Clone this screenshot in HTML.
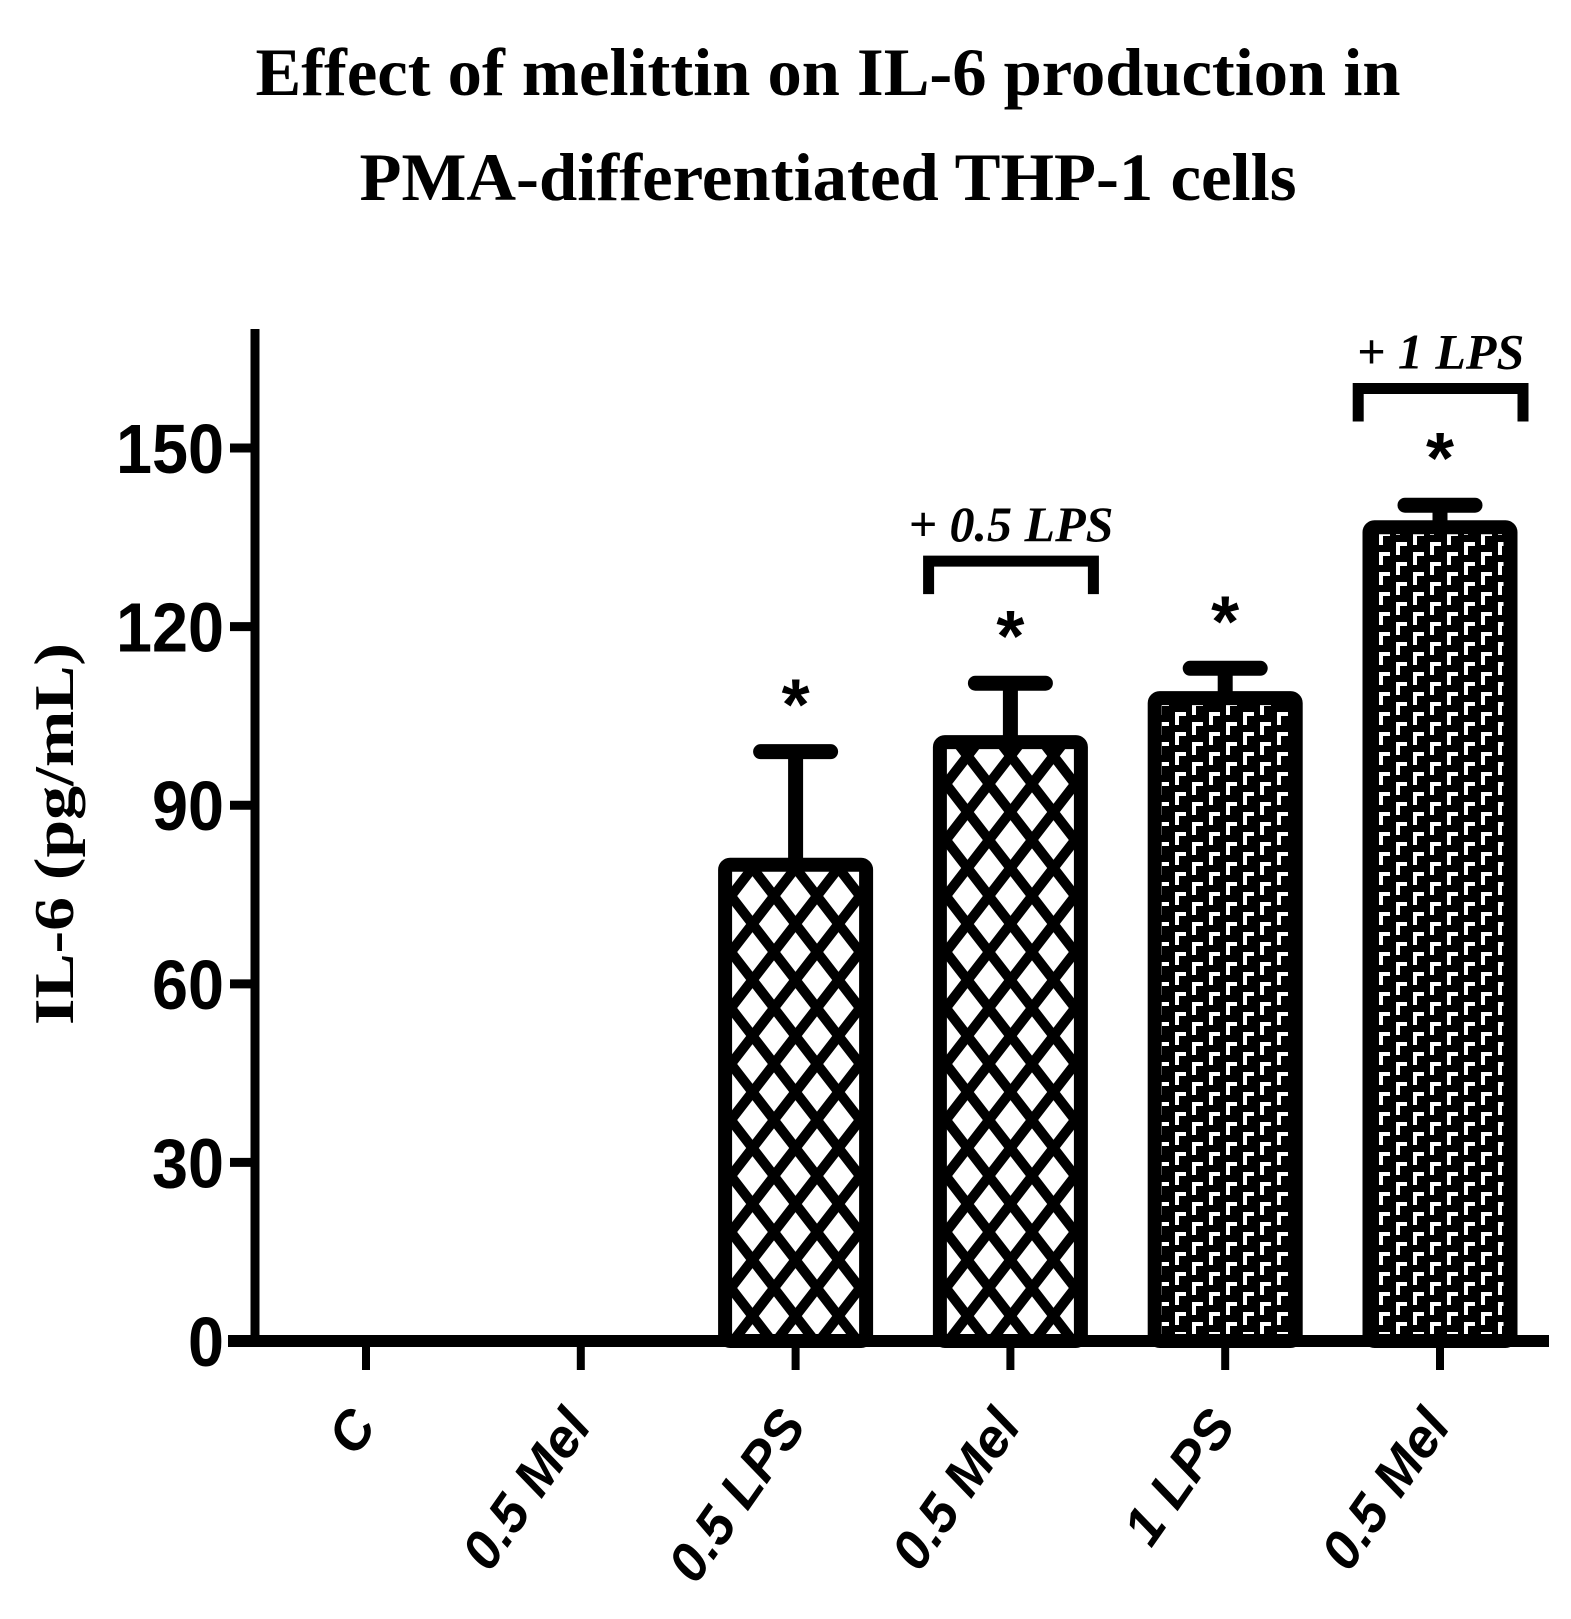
<!DOCTYPE html>
<html><head><meta charset="utf-8"><style>html,body{margin:0;padding:0;background:#fff}svg{display:block}</style></head>
<body>
<svg id="chart" width="1571" height="1619" viewBox="0 0 1571 1619" xmlns="http://www.w3.org/2000/svg">
<defs>
<pattern id="hatch" patternUnits="userSpaceOnUse" width="43" height="56">
<rect width="43" height="56" fill="#fff"/>
<path d="M-4,-5 L47,61 M47,-5 L-4,61" stroke="#000" stroke-width="10"/>
</pattern>
<pattern id="dots" patternUnits="userSpaceOnUse" width="34" height="20">
<rect width="34" height="20" fill="#000"/>
<path d="M2,2 h11 v4 h-7 v9 h-4z M19,12 h11 v4 h-7 v4 h-4z M19,0 h4 v5 h-4z" fill="#fff"/>
</pattern>
</defs>
<g font-family="'Liberation Serif', serif" font-weight="bold" fill="#000">
<text x="828" y="95" font-size="68" text-anchor="middle" textLength="1145" lengthAdjust="spacingAndGlyphs">Effect of melittin on IL-6 production in</text>
<text x="828" y="200" font-size="68" text-anchor="middle" textLength="937" lengthAdjust="spacingAndGlyphs">PMA-differentiated THP-1 cells</text>
<text transform="translate(73,834) rotate(-90)" font-size="56" text-anchor="middle" textLength="382" lengthAdjust="spacingAndGlyphs">IL-6 (pg/mL)</text>
</g>
<g id="plot"></g>
</svg>
<script>
const categories = ["C", "0.5 Mel", "0.5 LPS", "0.5 Mel", "1 LPS", "0.5 Mel"];
const means = [0, 0, 80, 100.6, 108, 136.7];
const errors = [0, 0, 19, 9.9, 5, 3.7];
const fills = ["none", "none", "hatch", "hatch", "dots", "dots"];
const yTicks = [0, 30, 60, 90, 120, 150];
const stars = [false, false, true, true, true, true];
const groups = [{label: "+ 0.5 LPS", from: 2, to: 3, level: 131}, {label: "+ 1 LPS", from: 4, to: 5, level: 160}];

const NS = "http://www.w3.org/2000/svg";
const plot = document.getElementById("plot");
const y0 = 1341, pxPerUnit = 5.953;
const yScale = v => y0 - v * pxPerUnit;
const xScale = i => 366 + i * 214.8;
function mk(tag, attrs, parent) {
  const el = document.createElementNS(NS, tag);
  for (const k in attrs) el.setAttribute(k, attrs[k]);
  (parent || plot).appendChild(el);
  return el;
}
let ya = mk("line", {x1: 255, y1: 329, x2: 255, y2: 1347, stroke: "#000", "stroke-width": 9});


let xa = mk("line", {x1: 228, y1: 1341, x2: 1549, y2: 1341, stroke: "#000", "stroke-width": 12});


yTicks.forEach(t => {
  const y = yScale(t);
  const tk = mk("line", {x1: 230, y1: y, x2: 255, y2: y, stroke: "#000", "stroke-width": 9});
  
  
  const s = String(t);
  const lb = mk("text", {x: 224, y: y + 25, "text-anchor": "end", "font-family": "'Liberation Sans', sans-serif", "font-weight": "bold", "font-size": 70, textLength: s.length * 36, lengthAdjust: "spacingAndGlyphs"});
  lb.textContent = s;
  
  
});
categories.forEach((c, i) => {
  const x = xScale(i);
  const tk = mk("line", {x1: x, y1: 1341, x2: x, y2: 1370, stroke: "#000", "stroke-width": 8});
  
  
  const lb = mk("text", {transform: `translate(${x + 12},1426) rotate(-55)`, "text-anchor": "end", "font-family": "'Liberation Sans', sans-serif", "font-weight": "bold", "font-style": "italic", "font-size": 54});
  lb.textContent = c;
  
  
  if (means[i] > 0) {
    const top = yScale(means[i]);
    const eTop = yScale(means[i] + errors[i]);
    const stem = mk("line", {x1: x, y1: top, x2: x, y2: eTop, stroke: "#000", "stroke-width": 15});
    
    
    const cap = mk("line", {x1: x - 35, y1: eTop, x2: x + 35, y2: eTop, stroke: "#000", "stroke-width": 15, "stroke-linecap": "round"});
    
    
    const bar = mk("rect", {x: x - 70.5, y: top, width: 141, height: y0 - top, fill: `url(#${fills[i]})`, stroke: "#000", "stroke-width": 14, rx: 5});
    
    
    if (stars[i]) {
      const st = mk("text", {x: x, y: eTop - 22, "text-anchor": "middle", "font-family": "'Liberation Sans', sans-serif", "font-weight": "bold", "font-size": 72});
      st.textContent = "*";
      
      
    }
  }
});
groups.forEach(g => {
  const x1 = xScale(g.from) + 133, x2 = xScale(g.to) + 83;
  const yb = yScale(g.level);
  const br = mk("path", {d: `M${x1},${yb + 33} V${yb} H${x2} V${yb + 33}`, fill: "none", stroke: "#000", "stroke-width": 11});
  
  
  const tx = mk("text", {x: (x1 + x2) / 2, y: yb - 20, "text-anchor": "middle", "font-family": "'Liberation Serif', serif", "font-style": "italic", "font-weight": "bold", "font-size": 50});
  tx.textContent = g.label;
  
  
});
</script>
</body></html>
